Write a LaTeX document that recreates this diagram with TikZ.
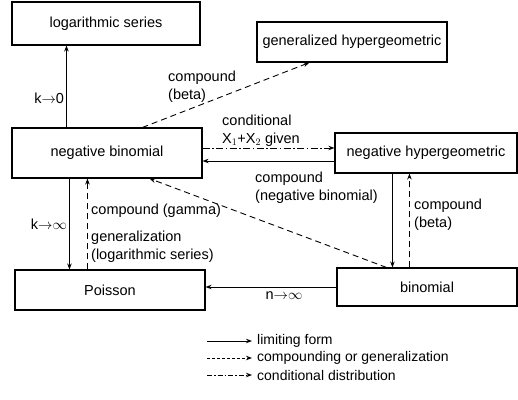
\documentclass[tikz,border=0pt]{standalone}
\usepackage{fontspec}
\setmainfont{Liberation Sans}
\usetikzlibrary{arrows.meta}
\begin{document}
\begin{tikzpicture}[x=1pt,y=-1pt,font=\fontsize{14.5}{16}\selectfont,
dist/.style={rectangle,draw=black,line width=1.1pt,inner sep=0pt},
limit/.style={line width=0.9pt,-{Stealth[length=6pt,width=4.5pt]}},
compound/.style={line width=0.9pt,dash pattern=on 6pt off 4pt,-{Stealth[length=6pt,width=4.5pt]}},
cond/.style={line width=0.9pt,dash pattern=on 7pt off 2.5pt on 1.5pt off 2.5pt,-{Stealth[length=6pt,width=4.5pt]}},
lbl/.style={anchor=west,align=left,inner sep=0pt,font=\fontsize{14.5}{18}\selectfont}]

\useasboundingbox (0,0) rectangle (518,399);

% Distributions
\node[dist,minimum width=188pt,minimum height=43pt] (logser) at (106,23.5) {logarithmic series};
\node[dist,minimum width=190pt,minimum height=40pt] (genhyp) at (352,42) {generalized hypergeometric};
\node[dist,minimum width=190pt,minimum height=50pt] (negbin) at (107,153) {negative binomial};
\node[dist,minimum width=182pt,minimum height=40pt] (neghyp) at (426,153) {negative hypergeometric};
\node[dist,minimum width=190pt,minimum height=40pt] (poisson) at (110,290) {Poisson};
\node[dist,minimum width=180pt,minimum height=38pt] (binom) at (427,287) {binomial};

% Arrows
\draw[limit] ([xshift=55]negbin.north west) -- ([xshift=55]logser.south west)
  node[pos=0.35,left,inner sep=2pt] {k$\mathord{\rightarrow}$0};
\draw[compound] ([xshift=131]negbin.north west) -- ([xshift=53]genhyp.south west);
\node[lbl] (lblbeta1) at (168,87) {compound\\(beta)};

\draw[cond] ([yshift=5]negbin.east) -- ([yshift=5]neghyp.west);
\node[lbl] (lblcond) at (222,131) {conditional\\X$_1$+X$_2$ given};
\draw[limit] ([yshift=-8]neghyp.west) -- ([yshift=-8]negbin.east);

\draw[compound] ([xshift=50]binom.north west) -- ([xshift=138]negbin.south west);
\node[lbl] (lblnegbin) at (255,188) {compound\\(negative binomial)};

\draw[limit] ([xshift=58]negbin.south west) -- ([xshift=55]poisson.north west)
  node[pos=0.5,left,inner sep=2pt] {k$\mathord{\rightarrow}\infty$};
\draw[compound] ([xshift=73]poisson.north west) -- ([xshift=76]negbin.south west);
\node[lbl] (lblgamma) at (91,211) {compound (gamma)};
\node[lbl] (lblgen) at (91,247) {generalization\\(logarithmic series)};

\draw[limit] (binom.west) -- (binom.west -| poisson.east)
  node[pos=0.4,below,inner sep=4pt] {n$\mathord{\rightarrow}\infty$};

\draw[limit] ([xshift=58]neghyp.south west) -- ([xshift=56]binom.north west);
\draw[compound] ([xshift=73]binom.north west) -- ([xshift=75]neghyp.south west);
\node[lbl] (lblbeta2) at (414,215) {compound\\(beta)};

% Legend
\node[lbl,font=\fontsize{14}{16}\selectfont] (leglim) at (257,341) {limiting form};
\node[lbl,font=\fontsize{14}{16}\selectfont] (legcomp) at (257,358) {compounding or generalization};
\node[lbl,font=\fontsize{14}{16}\selectfont] (legcond) at (257,375) {conditional distribution};
\coordinate (leglimS) at (207,341);
\coordinate (legcompS) at (207,358);
\coordinate (legcondS) at (207,375);
\draw[limit] (leglimS) -- ([xshift=-5]leglim.west);
\draw[compound,dash pattern=on 3pt off 2pt] (legcompS) -- ([xshift=-5]legcomp.west);
\draw[cond,dash pattern=on 5pt off 2pt on 1.5pt off 2pt] (legcondS) -- ([xshift=-5]legcond.west);

\end{tikzpicture}
\end{document}
